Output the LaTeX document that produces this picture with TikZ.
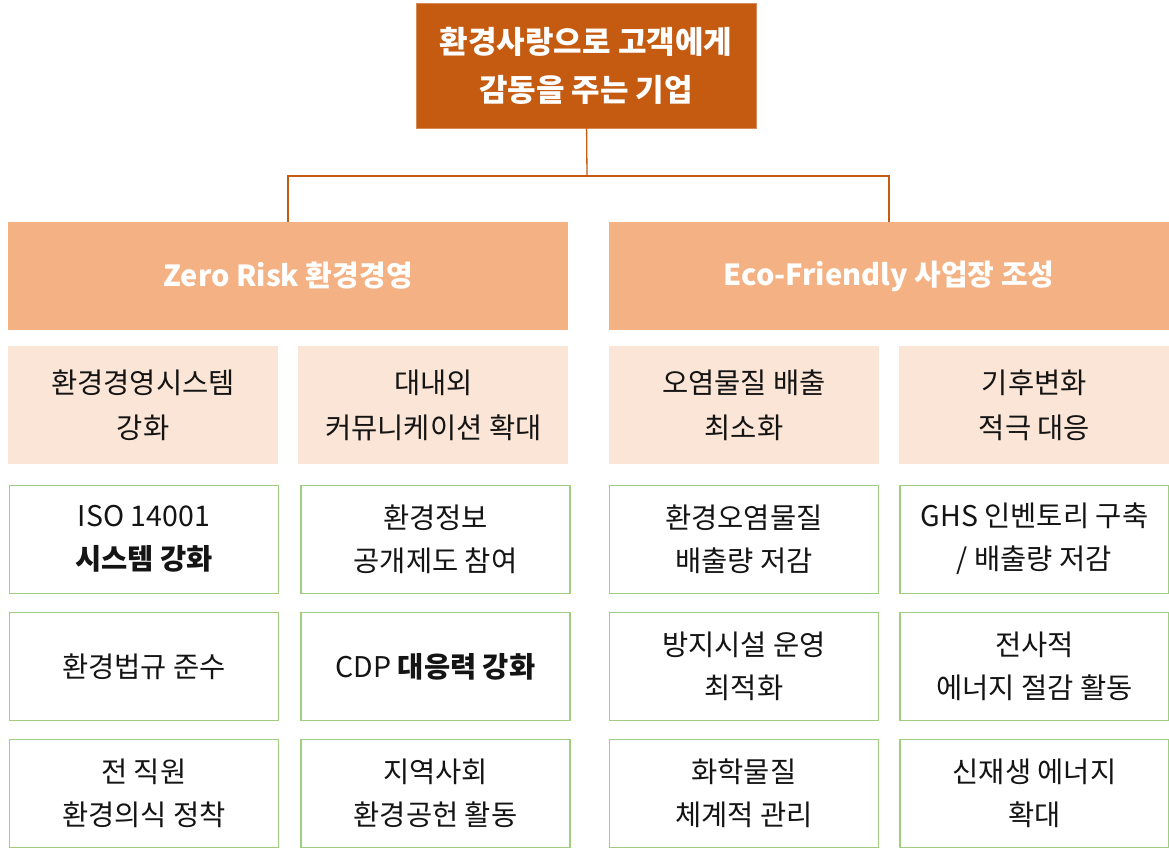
\documentclass[tikz,border=0pt]{standalone}
\usepackage{fontspec}
\setmainfont{Noto Sans CJK KR}
\usetikzlibrary{positioning}

\definecolor{topfill}{RGB}{197,90,17}
\definecolor{midfill}{RGB}{244,177,131}
\definecolor{subfill}{RGB}{251,229,214}
\definecolor{itemline}{RGB}{160,206,128}
\definecolor{textdark}{RGB}{20,20,20}

\tikzset{
    goalbox/.style={draw=topfill!70!white, fill=topfill, text=white, align=center,
        minimum width=340pt, minimum height=125pt, inner sep=0pt,
        font=\fontsize{31}{48}\selectfont\bfseries},
    areabox/.style={fill=midfill, text=white, align=center,
        minimum width=560pt, minimum height=108pt, inner sep=0pt,
        font=\fontsize{29}{45}\selectfont\bfseries},
    subbox/.style={fill=subfill, text=textdark, align=center,
        minimum width=270pt, minimum height=118pt, inner sep=0pt,
        font=\fontsize{28.5}{45}\selectfont},
    itembox/.style={draw=itemline, line width=1.2pt, fill=white, text=textdark, align=center,
        minimum width=269pt, minimum height=108pt, inner sep=0pt,
        font=\fontsize{28.5}{43}\selectfont},
    link/.style={draw=topfill, line width=1.3pt}
}

\begin{document}
\begin{tikzpicture}[x=1pt, y=1pt, node distance=18pt]
    \useasboundingbox (0,0) rectangle (1169,-848);

    \node[goalbox]                          (goal) at (586,-65.5) {환경사랑으로 고객에게\\감동을 주는 기업};
    \coordinate                             (bus)  at (587,-176);
    \node[areabox]                          (zero) at (288,-276)  {Zero Risk 환경경영};
    \node[areabox]                          (eco)  at (889,-276)  {Eco-Friendly 사업장 조성};

    % 세부 방향
    \node[subbox, below=16pt of zero.south west, anchor=north west] (ems)   {환경경영시스템\\강화};
    \node[subbox, right=20pt of ems]                                  (comm)  {대내외\\커뮤니케이션 확대};
    \node[subbox, below=16pt of eco.south west, anchor=north west]  (emis)  {오염물질 배출\\최소화};
    \node[subbox, right=20pt of emis]                                 (clim)  {기후변화\\적극 대응};

    % 실행 과제
    \node[itembox, below=20pt of ems.south west, anchor=north west, xshift=1pt]  (iso) {ISO 14001\\\textbf{시스템 강화}};
    \node[itembox, below=of iso]        (law)   {환경법규 준수};
    \node[itembox, below=of law]        (staff) {전 직원\\환경의식 정착};
    \node[itembox, below=20pt of comm.south east, anchor=north east, xshift=2pt] (info) {환경정보\\공개제도 참여};
    \node[itembox, below=of info]       (cdp)   {CDP \textbf{대응력 강화}};
    \node[itembox, below=of cdp]        (local) {지역사회\\환경공헌 활동};
    \node[itembox, below=20pt of emis.south west, anchor=north west] (poll) {환경오염물질\\배출량 저감};
    \node[itembox, below=of poll]       (plant) {방지시설 운영\\최적화};
    \node[itembox, below=of plant]      (chem)  {화학물질\\체계적 관리};
    \node[itembox, below=20pt of clim.south east, anchor=north east] (ghs) {GHS 인벤토리 구축\\/ 배출량 저감};
    \node[itembox, below=of ghs]        (energy){전사적\\에너지 절감 활동};
    \node[itembox, below=of energy]     (renew) {신재생 에너지\\확대};

    \draw[link] (goal) -- (bus);
    \draw[link] (bus) -| (zero);
    \draw[link] (bus) -| (eco);
\end{tikzpicture}
\end{document}
